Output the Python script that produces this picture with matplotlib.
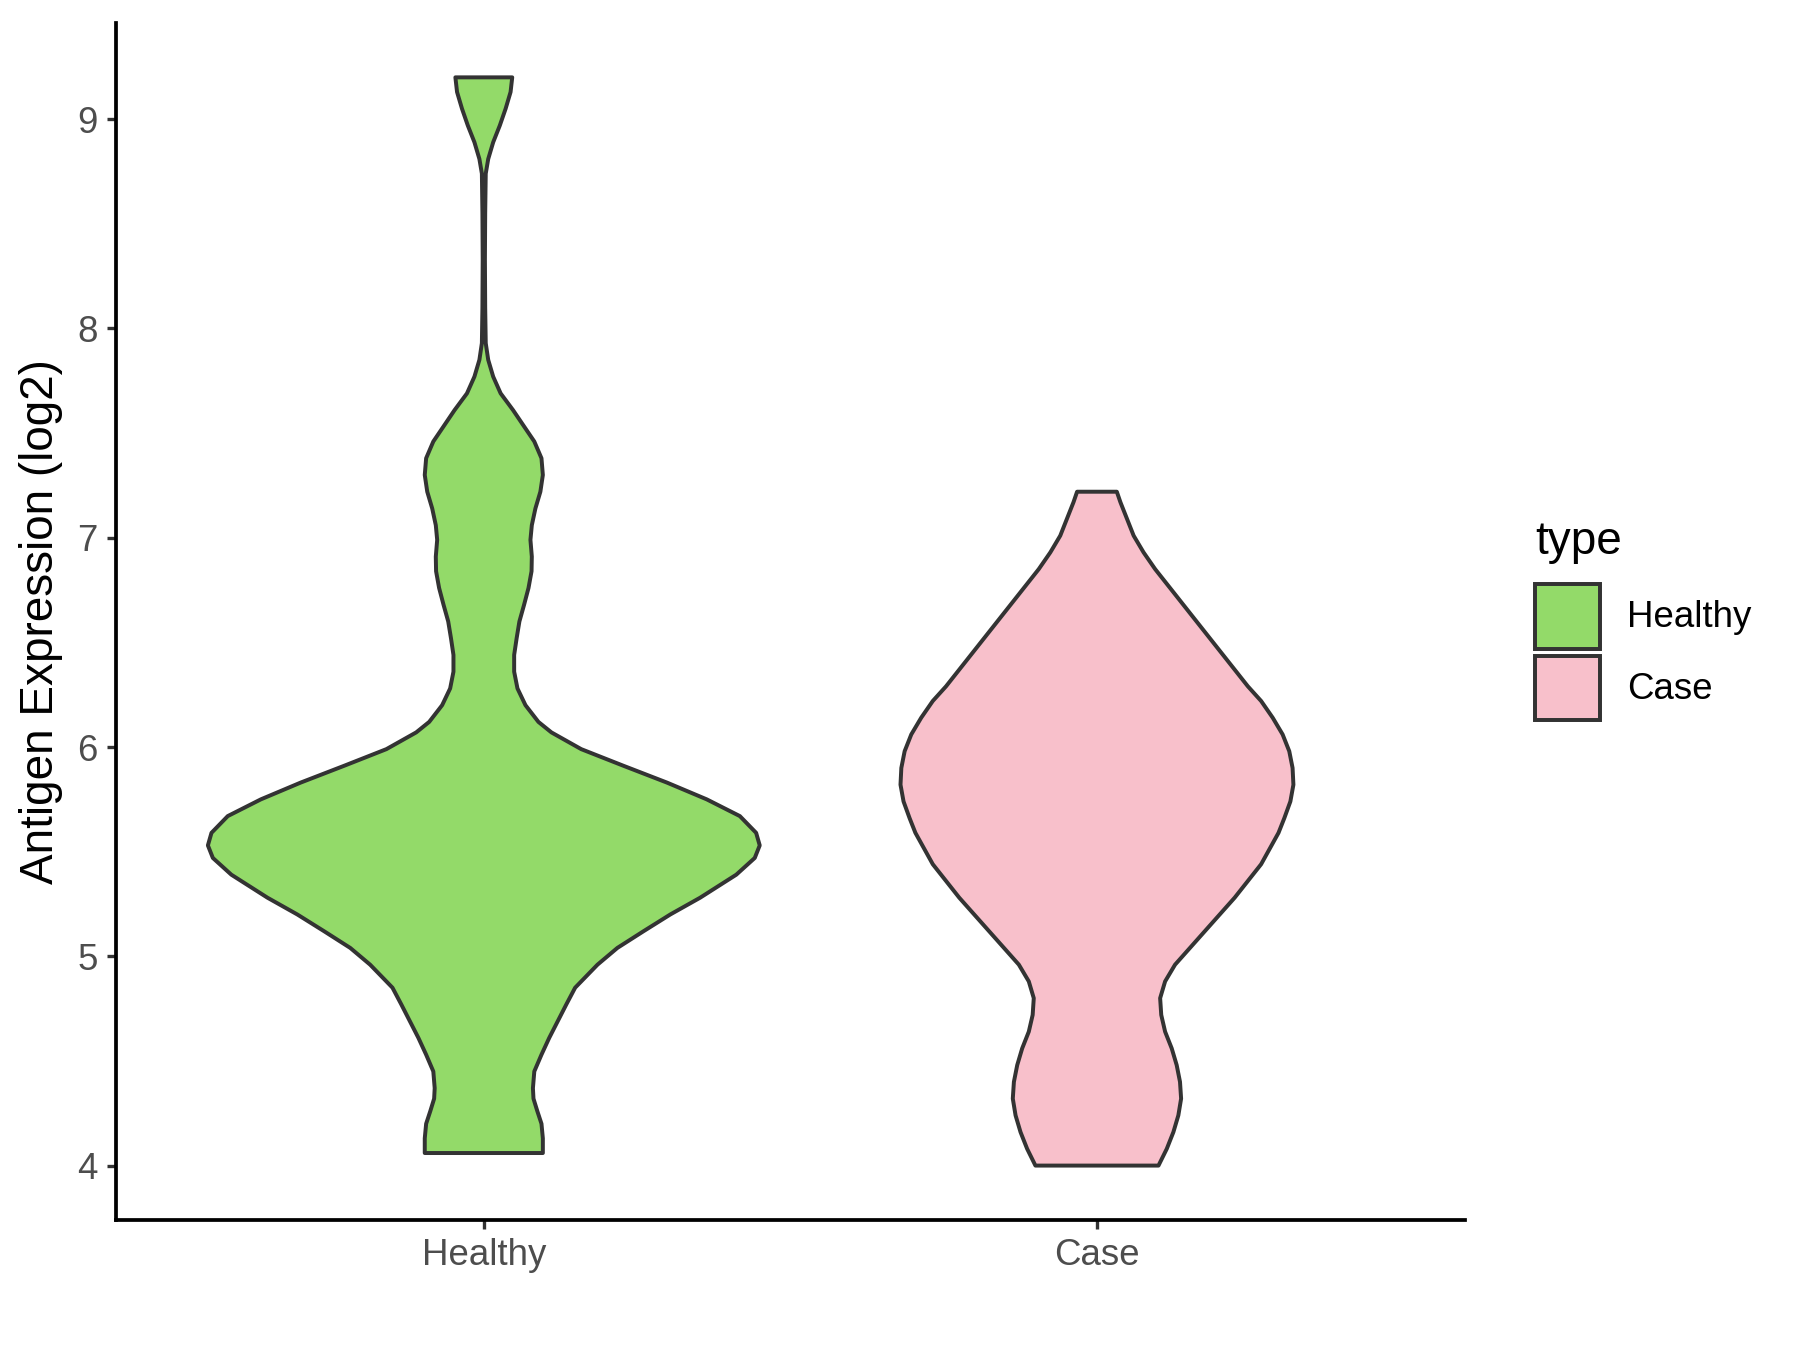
import numpy as np
import matplotlib
matplotlib.use("Agg")
from matplotlib import pyplot as plt
from matplotlib.patches import Patch


GROUPS = ["Healthy", "Case"]
COLORS = {"Healthy": "#93DA69", "Case": "#F8C0CB"}
EDGE = "#333333"

# density profile (y = log2 expression, d = relative density, max 1)
healthy_y = [4.06, 4.13, 4.20, 4.26, 4.32, 4.37, 4.45, 4.53, 4.61, 4.69,
             4.77, 4.85, 4.96, 5.04, 5.12, 5.20, 5.28, 5.39, 5.47, 5.53,
             5.59, 5.67, 5.75, 5.83, 5.91, 5.99, 6.07, 6.12, 6.20, 6.28,
             6.36, 6.44, 6.52, 6.60, 6.68, 6.76, 6.84, 6.91, 6.99, 7.06,
             7.14, 7.22, 7.30, 7.38, 7.46, 7.53, 7.61, 7.69, 7.77, 7.85,
             7.93, 8.10, 8.33, 8.55, 8.74, 8.81, 8.89, 8.97, 9.05, 9.13,
             9.20]
healthy_d = [0.214, 0.214, 0.209, 0.194, 0.180, 0.178, 0.183, 0.209, 0.237, 0.268,
             0.299, 0.331, 0.412, 0.484, 0.579, 0.676, 0.784, 0.915, 0.982, 1.000,
             0.987, 0.928, 0.808, 0.664, 0.507, 0.353, 0.245, 0.198, 0.151, 0.122,
             0.110, 0.110, 0.119, 0.129, 0.146, 0.162, 0.173, 0.174, 0.169, 0.174,
             0.187, 0.205, 0.214, 0.209, 0.183, 0.147, 0.106, 0.061, 0.034, 0.016,
             0.007, 0.005, 0.004, 0.005, 0.007, 0.016, 0.034, 0.058, 0.079, 0.097,
             0.103]

case_y = [4.00, 4.08, 4.16, 4.24, 4.32, 4.40, 4.48, 4.56, 4.64, 4.72,
          4.80, 4.88, 4.96, 5.04, 5.12, 5.20, 5.28, 5.44, 5.59, 5.66,
          5.74, 5.82, 5.90, 5.98, 6.06, 6.14, 6.22, 6.29, 6.37, 6.45,
          6.53, 6.61, 6.69, 6.77, 6.85, 6.93, 7.01, 7.09, 7.17, 7.22]
case_d = [0.223, 0.253, 0.277, 0.295, 0.305, 0.301, 0.289, 0.271, 0.247, 0.233,
          0.229, 0.247, 0.283, 0.337, 0.391, 0.445, 0.499, 0.595, 0.658, 0.679,
          0.701, 0.712, 0.709, 0.697, 0.673, 0.637, 0.595, 0.547, 0.499, 0.451,
          0.403, 0.355, 0.307, 0.259, 0.211, 0.169, 0.133, 0.109, 0.085, 0.072]

profiles = {"Healthy": (healthy_y, healthy_d), "Case": (case_y, case_d)}

YTICKS = [4, 5, 6, 7, 8, 9]
WIDTH = 0.9

plt.rcParams["font.family"] = ["Liberation Sans", "DejaVu Sans"]

fig = plt.figure(figsize=(12, 9), dpi=150)
ax = fig.add_axes([0.0644, 0.0963, 0.7494, 0.8867])

for i, name in enumerate(GROUPS):
    ys, ds = profiles[name]
    ys = np.asarray(ys)
    half = np.asarray(ds) * WIDTH / 2
    pos = i + 1
    xs = np.concatenate([pos - half, (pos + half)[::-1]])
    yy = np.concatenate([ys, ys[::-1]])
    ax.fill(xs, yy, facecolor=COLORS[name], edgecolor=EDGE, linewidth=1.9,
            joinstyle="round")

all_y = np.concatenate([healthy_y, case_y])
lo, hi = all_y.min(), all_y.max()
pad = (hi - lo) * 0.05
ax.set_ylim(lo - pad, hi + pad)
ax.set_xlim(0.4, 2.6)

ax.set_xticks(range(1, len(GROUPS) + 1))
ax.set_xticklabels(GROUPS)
ax.set_yticks(YTICKS)

for side in ["top", "right"]:
    ax.spines[side].set_visible(False)
for side in ["left", "bottom"]:
    ax.spines[side].set_color("black")
    ax.spines[side].set_linewidth(1.8)

ax.tick_params(axis="both", length=4.4, width=1.6, color=EDGE, pad=4.4,
               labelsize=17.6, labelcolor="#4D4D4D")

ax.set_ylabel("Antigen Expression (log2)", fontsize=22, color="black")
ax.yaxis.set_label_coords(-0.039, 0.5)

handles = [Patch(facecolor=COLORS[g], edgecolor=EDGE, linewidth=1.9, label=g)
           for g in GROUPS]
leg = fig.legend(handles=handles, title="type", loc="upper left",
                 bbox_to_anchor=(0.853, 0.615), frameon=False,
                 fontsize=17.6, title_fontsize=22, handlelength=1.77,
                 handleheight=2.35, labelspacing=0.19, handletextpad=0.72,
                 borderpad=0, borderaxespad=0, alignment="left")
leg._legend_box.sep = 9.5

fig.savefig("out.png", dpi=150, facecolor="white")
